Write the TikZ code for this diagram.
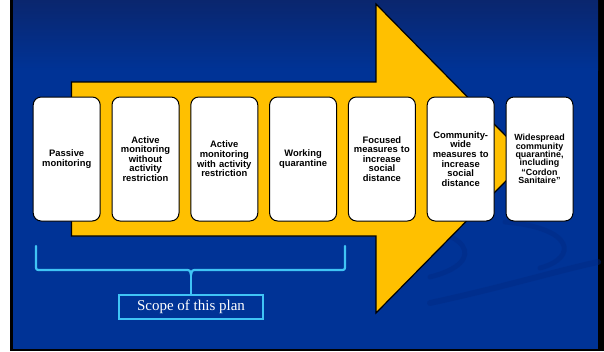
\documentclass[tikz,border=0pt]{standalone}
\usepackage{fontspec}
\setmainfont{Liberation Sans}
\newfontfamily\scopefont{Liberation Serif}
\usetikzlibrary{calc}

\definecolor{bgtop}{RGB}{10,38,110}
\definecolor{bgblue}{RGB}{0,51,150}
\definecolor{bgdark}{RGB}{0,42,132}
\definecolor{arrowgold}{RGB}{255,192,0}
\definecolor{bracecyan}{RGB}{64,196,245}

\tikzset{
  stagebox/.style={draw=black, line width=1pt, fill=white, rounded corners=8pt,
    minimum width=67pt, minimum height=124pt, inner sep=1pt, text width=65pt,
    align=center, font=\bfseries\fontsize{9.4}{9.6}\selectfont},
  swoosh/.style={draw=bgdark, opacity=0.45, line cap=round},
  bracepart/.style={draw=bracecyan, line width=2.2pt, line cap=round, line join=round}
}

\begin{document}
\begin{tikzpicture}[x=1pt,y=-1pt]
  \useasboundingbox (0,0) rectangle (604,351);
  %% Slide background
  \fill[white] (0,0) rectangle (604,351);
  \fill[black] (10,0) rectangle (604,351);
  \fill[bgblue] (13,0) rectangle (598,349);
  \shade[top color=bgtop, bottom color=bgblue] (13,0) rectangle (598,70);
  \draw[swoosh, line width=6pt] (430,303) .. controls (500,288) and (560,270) .. (598,262);
  \draw[swoosh, line width=5pt] (390,226) .. controls (470,226) and (490,262) .. (430,277);
  \draw[swoosh, line width=5pt] (505,222) .. controls (575,228) and (578,258) .. (540,268);

  %% Big arrow behind the stages
  \draw[fill=arrowgold, line width=1.2pt, line join=miter]
    (71.5,82) -- (376,82) -- (376,4) -- (528,158.5) -- (376,313)
    -- (376,236) -- (71.5,236) -- cycle;

  %% Stages
  \foreach \i/\label in {1/{Passive\\monitoring},
      2/{Active\\monitoring\\without\\activity\\restriction},
      3/{Active\\monitoring\\with activity\\restriction},
      4/{Working\\quarantine},
      5/{Focused\\measures to\\increase\\social\\distance},
      6/{Community-\\wide\\measures to\\increase\\social\\distance}}
  {
    \node[stagebox] (stage\i) at ({66.7+78.8*(\i-1)},159) {\label};
  }
  \node[stagebox, font=\bfseries\fontsize{8.9}{8.3}\selectfont] (stage7) at ({66.7+78.8*6},159)
    {Widespread\\community\\quarantine,\\including\\“Cordon\\Sanitaire”};

  %% Brace and scope label
  \node[draw=bracecyan, line width=1.5pt, fill=bgblue, minimum width=144pt,
    minimum height=24pt, inner sep=0pt, text=white,
    font=\scopefont\fontsize{15}{15}\selectfont] (scope) at (191,307) {Scope of this plan};
  \coordinate (braceL) at (36,246);
  \coordinate (braceR) at (345,246);
  \coordinate (braceM) at (191,270);
  \draw[bracepart] (braceL) -- ($(braceL|-braceM)+(0,-5)$)
    .. controls ($(braceL|-braceM)+(0,0)$) .. ($(braceL|-braceM)+(5,0)$)
    -- ($(braceM)+(-6,0)$) .. controls ($(braceM)+(-1,0)$) .. ($(braceM)+(0,5)$)
    .. controls ($(braceM)+(1,0)$) .. ($(braceM)+(6,0)$)
    -- ($(braceR|-braceM)+(-5,0)$) .. controls ($(braceR|-braceM)+(0,0)$) .. ($(braceR|-braceM)+(0,-5)$)
    -- (braceR);
  \draw[bracepart] ($(braceM)+(0,3)$) -- (scope.north);
\end{tikzpicture}
\end{document}
